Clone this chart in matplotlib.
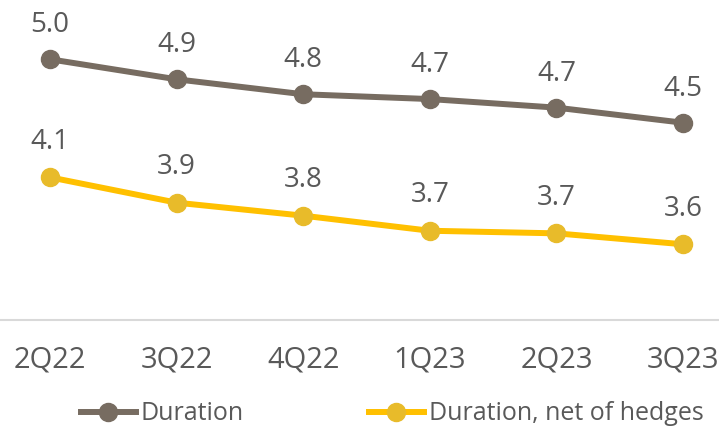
import matplotlib
matplotlib.use("Agg")
import matplotlib.pyplot as plt
from matplotlib.lines import Line2D

categories = ["2Q22", "3Q22", "4Q22", "1Q23", "2Q23", "3Q23"]
duration = [5.03, 4.876, 4.761, 4.724, 4.658, 4.542]
duration_net = [4.122, 3.927, 3.827, 3.711, 3.691, 3.607]
duration_labels = ["5.0", "4.9", "4.8", "4.7", "4.7", "4.5"]
net_labels = ["4.1", "3.9", "3.8", "3.7", "3.7", "3.6"]
series_names = ["Duration", "Duration, net of hedges"]

GRAY = "#776C61"
GOLD_LINE = "#FFC000"
GOLD_MARK = "#E8BB2A"
TEXT = "#595959"
FONT = "Open Sans"

fig = plt.figure(figsize=(7.19, 4.28), dpi=100)
ax = fig.add_axes([0, (428 - 320) / 428, 1, 320 / 428])

x = list(range(len(categories)))
ax.plot(x, duration, color=GRAY, lw=4.3, marker="o", ms=13,
        markerfacecolor=GRAY, markeredgecolor=GRAY, solid_capstyle="round", zorder=3)
ax.plot(x, duration_net, color=GOLD_LINE, lw=4.3, marker="o", ms=13,
        markerfacecolor=GOLD_MARK, markeredgecolor=GOLD_MARK, solid_capstyle="round", zorder=3)

for xi, v, lab in zip(x, duration, duration_labels):
    ax.annotate(lab, (xi, v), xytext=(0, 19.5), textcoords="offset points",
                ha="center", va="baseline", fontsize=20, color=TEXT, family=FONT,
                annotation_clip=False)
for xi, v, lab in zip(x, duration_net, net_labels):
    ax.annotate(lab, (xi, v), xytext=(0, 20.5), textcoords="offset points",
                ha="center", va="baseline", fontsize=20, color=TEXT, family=FONT,
                annotation_clip=False)

ax.set_xlim(-0.395, 5.284)
ax.set_ylim(5.486 - 320 / 130, 5.486)
ax.set_xticks(x)
ax.set_xticklabels(categories, fontsize=21, color=TEXT, family=FONT)
ax.tick_params(axis="x", length=0, pad=18)
ax.set_yticks([])
for s in ["top", "left", "right"]:
    ax.spines[s].set_visible(False)
ax.spines["bottom"].set_color("#D9D9D9")
ax.spines["bottom"].set_linewidth(1.5)

handles = [
    Line2D([], [], color=GRAY, lw=4.3, marker="o", ms=13, markerfacecolor=GRAY, markeredgecolor=GRAY),
    Line2D([], [], color=GOLD_LINE, lw=4.3, marker="o", ms=13, markerfacecolor=GOLD_MARK, markeredgecolor=GOLD_MARK),
]
leg = fig.legend(handles, series_names, loc="center", bbox_to_anchor=(392 / 719, 1 - 414 / 428),
                 ncol=2, frameon=False, prop={"family": FONT, "size": 18},
                 handlelength=2.2, handletextpad=0.2, columnspacing=5.0, borderaxespad=0)
for t in leg.get_texts():
    t.set_color(TEXT)

fig.savefig("out.png", dpi=100)
